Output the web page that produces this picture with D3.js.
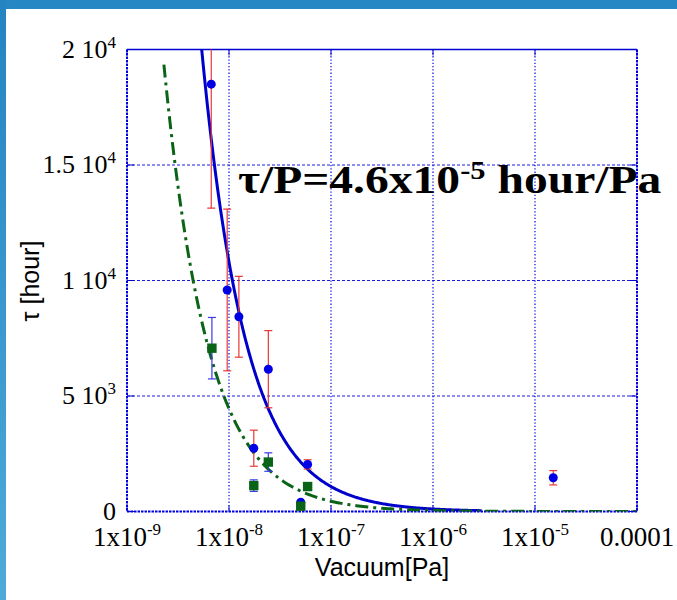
<!DOCTYPE html>
<html>
<head>
<meta charset="utf-8">
<script src="https://cdn.jsdelivr.net/npm/d3@7"></script>
<style>
  body { margin: 0; background: #fff; }
  svg { display: block; }
</style>
</head>
<body>
<script>
// blue circles (red error bars)
var circleP   = [6.7e-9, 9.6e-9, 1.25e-8, 1.75e-8, 2.43e-8, 5.05e-8, 5.9e-8, 1.51e-5];
var circleT   = [18500, 9590, 8430, 2740, 6160, 400, 2040, 1460];
var circleErr = [5370, 3500, 1750, 780, 1670, 0, 200, 310];

// green squares (blue error bars)
var squareP   = [6.8e-9, 1.75e-8, 2.43e-8, 5.05e-8, 5.9e-8];
var squareT   = [7070, 1120, 2140, 230, 1080];
var squareErr = [1330, 250, 400, 0, 0];

// fitted curves  tau = C / P
var blueC = 1.08e-4, blueRange = [5.3e-9, 3e-6];
var greenC = 4.45e-5, greenRange = [2.3e-9, 1e-4];

var xTicks = [1e-9, 1e-8, 1e-7, 1e-6, 1e-5, 1e-4];
var xTickLabels = [["1x10", "-9"], ["1x10", "-8"], ["1x10", "-7"], ["1x10", "-6"], ["1x10", "-5"], ["0.0001", ""]];
var yTicks = [0, 5000, 10000, 15000, 20000];
var yTickLabels = [["0", ""], ["5 10", "3"], ["1 10", "4"], ["1.5 10", "4"], ["2 10", "4"]];

var W = 677, H = 600;
var pl = 127, pr = 637, pt = 49.5, pb = 511.5;

var svg = d3.select("body").append("svg").attr("width", W).attr("height", H);

// slide decoration
var grad = svg.append("defs").append("linearGradient")
    .attr("id", "stripe").attr("x1", 0).attr("y1", 0).attr("x2", 0).attr("y2", 1);
grad.append("stop").attr("offset", "0%").attr("stop-color", "#2484c2");
grad.append("stop").attr("offset", "100%").attr("stop-color", "#4eaada");
svg.append("rect").attr("x", 0).attr("y", 0).attr("width", W).attr("height", 9).attr("fill", "#2587c3");
svg.append("rect").attr("x", 0).attr("y", 0).attr("width", 6).attr("height", H).attr("fill", "url(#stripe)");

var x = d3.scaleLog().domain([1e-9, 1e-4]).range([pl, pr]);
var y = d3.scaleLinear().domain([0, 20000]).range([pb, pt]);

svg.append("defs").append("clipPath").attr("id", "plot")
  .append("rect").attr("x", pl).attr("y", pt).attr("width", pr - pl).attr("height", pb - pt);

var gridCol = "#1a1ae0";

// grid
svg.append("g").selectAll("line").data(xTicks.slice(1, -1)).join("line")
    .attr("x1", d => x(d)).attr("x2", d => x(d)).attr("y1", pt).attr("y2", pb)
    .attr("stroke", gridCol).attr("stroke-width", 1.3).attr("stroke-dasharray", "1.3,2");
svg.append("g").selectAll("line").data(yTicks.slice(1, -1)).join("line")
    .attr("x1", pl).attr("x2", pr).attr("y1", d => y(d)).attr("y2", d => y(d))
    .attr("stroke", gridCol).attr("stroke-width", 1).attr("stroke-dasharray", "3,2");

// ticks (inward)
var tk = svg.append("g").attr("stroke", "#0000d0").attr("stroke-width", 1);
xTicks.forEach(function(d) {
  tk.append("line").attr("x1", x(d)).attr("x2", x(d)).attr("y1", pt).attr("y2", pt + 6);
  tk.append("line").attr("x1", x(d)).attr("x2", x(d)).attr("y1", pb).attr("y2", pb - 6);
});
yTicks.forEach(function(d) {
  tk.append("line").attr("x1", pl).attr("x2", pl + 7).attr("y1", y(d)).attr("y2", y(d));
  tk.append("line").attr("x1", pr).attr("x2", pr - 7).attr("y1", y(d)).attr("y2", y(d));
});

// frame
svg.append("line").attr("x1", pl).attr("x2", pr).attr("y1", pt).attr("y2", pt)
    .attr("stroke", "#0000d0").attr("stroke-width", 1.5);
[[pl, pt, pl, pb], [pr, pt, pr, pb], [pl, pb, pr, pb]].forEach(function(s) {
  svg.append("line").attr("x1", s[0]).attr("y1", s[1]).attr("x2", s[2]).attr("y2", s[3])
      .attr("stroke", "#0000e0").attr("stroke-width", 2).attr("stroke-dasharray", "2.5,1");
});

// curves
function curve(C, range) {
  var lo = Math.log10(range[0]), hi = Math.log10(range[1]);
  return d3.range(0, 401).map(function(i) {
    var p = Math.pow(10, lo + (hi - lo) * i / 400);
    return [p, C / p];
  });
}
var line = d3.line().x(d => x(d[0])).y(d => y(d[1]));
var plot = svg.append("g").attr("clip-path", "url(#plot)");
plot.append("path").datum(curve(blueC, blueRange)).attr("d", line)
    .attr("fill", "none").attr("stroke", "#0000cc").attr("stroke-width", 3);
plot.append("path").datum(curve(greenC, greenRange)).attr("d", line)
    .attr("fill", "none").attr("stroke", "#0a6418").attr("stroke-width", 3)
    .attr("stroke-dasharray", "13,5,3,5");

// error bars
function errBars(P, T, E, col) {
  var g = plot.append("g").attr("stroke", col).attr("stroke-width", 1.2);
  P.forEach(function(p, i) {
    if (!E[i]) return;
    var cx = x(p), y1 = y(T[i] + E[i]), y2 = y(T[i] - E[i]);
    g.append("line").attr("x1", cx).attr("x2", cx).attr("y1", y1).attr("y2", y2);
    g.append("line").attr("x1", cx - 4).attr("x2", cx + 4).attr("y1", y1).attr("y2", y1);
    g.append("line").attr("x1", cx - 4).attr("x2", cx + 4).attr("y1", y2).attr("y2", y2);
  });
}
errBars(circleP, circleT, circleErr, "#e83838");
errBars(squareP, squareT, squareErr, "#3a3ae8");

plot.append("g").selectAll("circle").data(circleP).join("circle")
    .attr("cx", d => x(d)).attr("cy", (d, i) => y(circleT[i])).attr("r", 4.5)
    .attr("fill", "#0000e6");
plot.append("g").selectAll("rect").data(squareP).join("rect")
    .attr("x", d => x(d) - 4.7).attr("y", (d, i) => y(squareT[i]) - 4.7)
    .attr("width", 9.4).attr("height", 9.4).attr("fill", "#0a6418");

// tick labels
var serif = "'Liberation Serif', 'Times New Roman', serif";
var sans = "'Liberation Sans', Arial, sans-serif";
xTicks.forEach(function(d, i) {
  var t = svg.append("text").attr("x", x(d)).attr("y", 546).attr("text-anchor", "middle")
      .attr("font-family", serif).attr("font-size", 27).attr("fill", "#000");
  t.append("tspan").text(xTickLabels[i][0]);
  if (xTickLabels[i][1]) t.append("tspan").attr("dy", -11).attr("font-size", 17).text(xTickLabels[i][1]);
});
yTicks.forEach(function(d, i) {
  var t = svg.append("text").attr("x", 116).attr("y", y(d) + 8).attr("text-anchor", "end")
      .attr("font-family", serif).attr("font-size", 26).attr("fill", "#000");
  t.append("tspan").text(yTickLabels[i][0]);
  if (yTickLabels[i][1]) t.append("tspan").attr("dy", -10).attr("font-size", 17).text(yTickLabels[i][1]);
});

// axis titles
svg.append("text").attr("x", 382).attr("y", 576).attr("text-anchor", "middle")
    .attr("font-family", sans).attr("font-size", 25).text("Vacuum[Pa]");
svg.append("text").attr("transform", "translate(39,281) rotate(-90)").attr("text-anchor", "middle")
    .attr("font-family", sans).attr("font-size", 25).text("τ [hour]");

// annotation
var ann = svg.append("text").attr("transform", "translate(238,193) scale(1.22,1)")
    .attr("font-family", serif).attr("font-weight", "bold").attr("font-size", 39).attr("fill", "#000");
ann.append("tspan").text("τ/P=4.6x10");
ann.append("tspan").attr("dy", -14).attr("font-size", 25).text("-5");
ann.append("tspan").attr("dy", 14).text(" hour/Pa");
</script>
</body>
</html>
